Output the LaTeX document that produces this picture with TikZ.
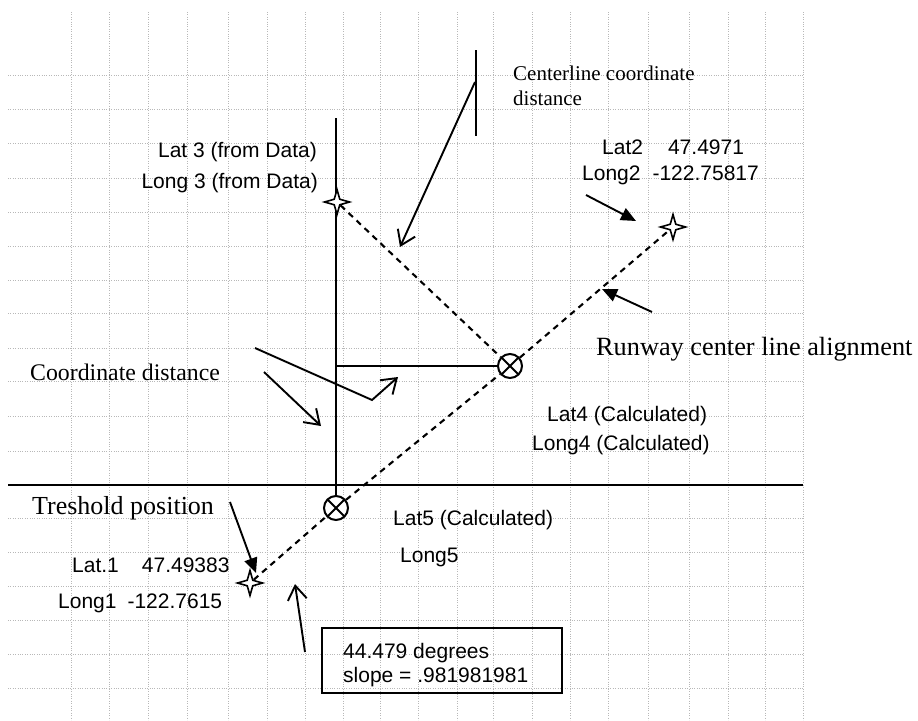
\documentclass[tikz,border=0pt]{standalone}
\usepackage{fontspec}
\setmainfont{Liberation Serif}
\newfontfamily\arialf{Liberation Sans}
\usetikzlibrary{arrows.meta,shapes.geometric}
\pgfdeclarelayer{gridlayer}
\pgfdeclarelayer{linelayer}
\pgfsetlayers{gridlayer,linelayer,main}
\tikzset{
  gridline/.style={black!28, line width=0.5pt, dash pattern=on 1pt off 1.4pt},
  solidline/.style={line width=2.4pt},
  dashline/.style={line width=2.1pt, dash pattern=on 6pt off 5pt},
  openarrow/.style={line width=1.9pt, line join=miter, -{Straight Barb[length=14pt,width=19pt]}},
  filledarrow/.style={line width=1.9pt, -{Triangle[length=15pt,width=13pt]}},
  starpt/.style={star, star points=4, star point ratio=3.2, minimum size=25pt, inner sep=0pt, draw, fill=white, line width=1.6pt},
  crosspt/.style={circle, minimum size=24pt, inner sep=0pt, draw, fill=white, line width=2pt,
    path picture={\draw[line width=1.8pt] (path picture bounding box.north west) -- (path picture bounding box.south east)
                  (path picture bounding box.north east) -- (path picture bounding box.south west);}},
  sanslabel/.style={font=\arialf\fontsize{21}{24}\selectfont, inner sep=0pt, anchor=base west},
  seriflabel/.style={inner sep=0pt, anchor=base west},
  boxstyle/.style={draw, line width=1.7pt, rectangle, inner sep=0pt, minimum width=240pt, minimum height=65pt, anchor=north west},
}
\begin{document}
\begin{tikzpicture}[x=1pt,y=-1pt]
\useasboundingbox (0,0) rectangle (918,720);
\begin{pgfonlayer}{gridlayer}
  \fill[white] (0,0) rectangle (918,720);
  \foreach \gx in {71,109,148,187,228,267,305,343,380,418,457,493,532,570,608,648,689,728,765,803}
    \draw[gridline] (\gx,12) -- (\gx,720);
  \foreach \gy in {75,109,143,178,212,246,280,313,348,381,416,451,518,552,586,620,654,688}
    \draw[gridline] (8,\gy) -- (803,\gy);
\end{pgfonlayer}

% point symbols
\node[starpt] (s3) at (337,202) {};
\node[starpt] (s2) at (673,227) {};
\node[starpt] (s1) at (250,583) {};
\node[crosspt] (c4) at (510,366) {};
\node[crosspt] (c5) at (336,508) {};

% free ends
\coordinate (vtop) at (336,118);
\coordinate (hstart) at (336,366);
\coordinate (thL) at (8,485);
\coordinate (thR) at (803,485);
\coordinate (clTop) at (476,50);
\coordinate (clBot) at (476,136);

\begin{pgfonlayer}{linelayer}
  \draw[solidline] (vtop) -- (c5);
  \draw[solidline] (hstart) -- (c4);
  \draw[line width=1.9pt] (thL) -- (thR);
  \draw[solidline] (clTop) -- (clBot);
  \draw[dashline] (s3) -- (c4);
  \draw[dashline] (s1) -- (c5);
  \draw[dashline] (c5) -- (c4);
  \draw[dashline] (c4) -- (s2);
\end{pgfonlayer}

% labels
\node[sanslabel, anchor=base east] (lat3) at (317,157) {Lat 3 (from Data)};
\node[sanslabel, anchor=base east] (long3) at (318,188) {Long 3 (from Data)};
\node[sanslabel] (lat2) at (602,154) {Lat2\hspace{25pt}47.4971};
\node[sanslabel] (long2) at (582,180) {Long2\hspace{12pt}-122.75817};
\node[sanslabel] (lat4) at (547,421) {Lat4 (Calculated)};
\node[sanslabel] (long4) at (532,450) {Long4 (Calculated)};
\node[sanslabel] (lat5) at (393,525) {Lat5 (Calculated)};
\node[sanslabel] (long5) at (400,562) {Long5};
\node[sanslabel] (lat1) at (72,572) {Lat.1\hspace{23pt}47.49383};
\node[sanslabel] (long1) at (58,608) {Long1\hspace{11pt}-122.7615};

\node[seriflabel, font=\fontsize{21}{24}\selectfont] (cl1) at (513,80) {Centerline coordinate};
\node[seriflabel, font=\fontsize{21}{24}\selectfont] (cl2) at (513,105) {distance};
\node[seriflabel, font=\fontsize{26.3}{30}\selectfont] (rwy) at (596,355) {Runway center line alignment};
\node[seriflabel, font=\fontsize{23.8}{28}\selectfont] (cdist) at (30,380) {Coordinate distance};
\node[seriflabel, font=\fontsize{26}{30}\selectfont] (thr) at (32,514) {Treshold position};

\node[boxstyle] (box) at (321,627) {};
\node[sanslabel] (deg) at (343,658) {44.479 degrees};
\node[sanslabel] (slope) at (343,682) {slope = .981981981};

% arrows
\coordinate (a1s) at (475,82);   \coordinate (a1e) at (400,247);
\coordinate (a2s) at (586,195);  \coordinate (a2e) at (636,221);
\coordinate (a3s) at (652,312);  \coordinate (a3e) at (602,289);
\coordinate (a4s) at (264,372);  \coordinate (a4e) at (321,426);
\coordinate (a5s) at (255,348);  \coordinate (a5m) at (372,400);  \coordinate (a5e) at (398,377);
\coordinate (a6s) at (230,502);  \coordinate (a6e) at (256,573);
\coordinate (a7s) at (305,652);  \coordinate (a7e) at (295,584);

\draw[openarrow] (a1s) -- (a1e);
\draw[filledarrow] (a2s) -- (a2e);
\draw[filledarrow] (a3s) -- (a3e);
\draw[openarrow] (a4s) -- (a4e);
\draw[openarrow] (a5s) -- (a5m) -- (a5e);
\draw[filledarrow] (a6s) -- (a6e);
\draw[openarrow] (a7s) -- (a7e);
\end{tikzpicture}
\end{document}
